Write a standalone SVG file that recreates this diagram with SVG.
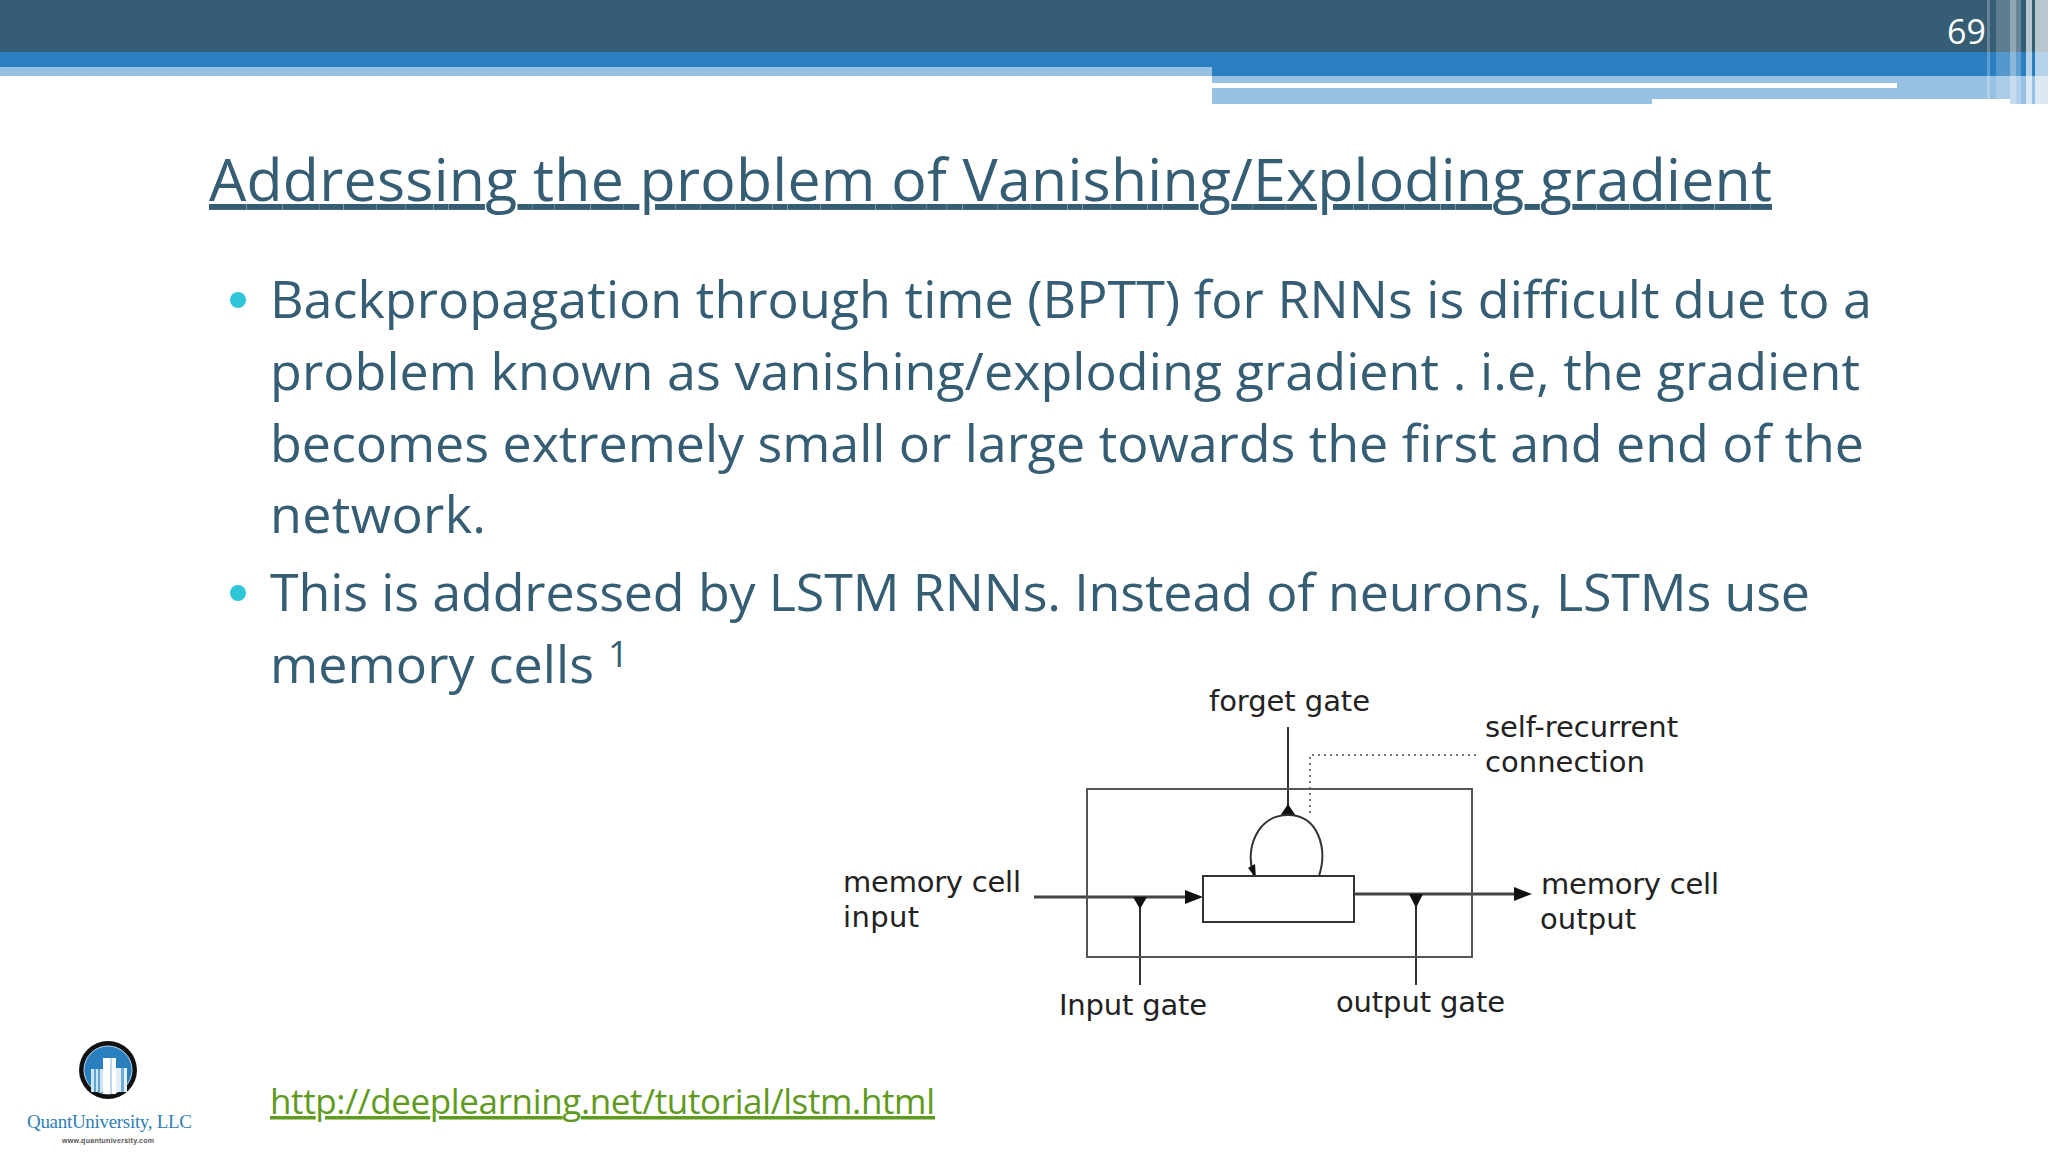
<svg xmlns="http://www.w3.org/2000/svg" width="2048" height="1152" viewBox="0 0 2048 1152">
<style>
.body{font-family:"Open Sans","Noto Sans",sans-serif;font-size:52px;fill:#355d74}
.lab{font-family:"DejaVu Sans",sans-serif;font-size:29px;fill:#222}
.ln{fill:none;stroke:#333;stroke-width:2}
.hv{fill:none;stroke:#444;stroke-width:3}
.ah{fill:#111;stroke:none}
</style>
<rect width="2048" height="1152" fill="#fff"/>
<g id="header">
<rect x="0" y="0" width="2048" height="52" fill="#355d74"/>
<rect x="0" y="52" width="2048" height="24" fill="#2a7fc1"/>
<rect x="0" y="67" width="1212" height="9" fill="#97c0e2"/>
<rect x="1212" y="76" width="836" height="28" fill="#97c0e2"/>
<rect x="1212" y="83" width="685" height="5" fill="#fff"/>
<rect x="1652" y="99" width="358" height="5" fill="#fff"/>
<g fill="#fff">
<rect x="1987" y="0" width="3" height="104" opacity=".25"/>
<rect x="1996" y="0" width="14" height="104" opacity=".2"/>
<rect x="2010" y="0" width="6" height="104" opacity=".45"/>
<rect x="2016" y="0" width="5" height="104" opacity=".25"/>
<rect x="2026" y="0" width="6" height="104" opacity=".65"/>
<rect x="2035" y="0" width="13" height="104" opacity=".65"/>
</g>
<text x="1947" y="44" font-family="Open Sans, sans-serif" font-size="34" fill="#fff">69</text>
</g>
<text id="title" x="209" y="201" class="body" style="font-size:59px" text-decoration="underline" textLength="1563">Addressing the problem of Vanishing/Exploding gradient</text>
<g id="bullets">
<circle cx="238" cy="300" r="8" fill="#2fc6d9"/>
<text x="270" y="318" class="body" textLength="1602">Backpropagation through time (BPTT) for RNNs is difficult due to a</text>
<text x="270" y="390" class="body" textLength="1590">problem known as vanishing/exploding gradient . i.e, the gradient</text>
<text x="270" y="462" class="body" textLength="1594">becomes extremely small or large towards the first and end of the</text>
<text x="270" y="533" class="body" textLength="216">network.</text>
<circle cx="238" cy="593" r="8" fill="#2fc6d9"/>
<text x="270" y="611" class="body" textLength="1540">This is addressed by LSTM RNNs. Instead of neurons, LSTMs use</text>
<text x="270" y="683" class="body" textLength="324">memory cells</text>
<text x="608" y="667" class="body" style="font-size:36px">1</text>
</g>
<g id="connectors">
<path class="hv" d="M1034 897H1195"/>
<path class="ah" d="M1203 897L1185 890V904Z"/>
<path class="hv" d="M1354 894H1520"/>
<path class="ah" d="M1532 894L1514 887V901Z"/>
<path class="ln" d="M1140 985V900"/>
<path class="ah" d="M1140 909L1133 897H1147Z"/>
<path class="ln" d="M1416 985V897"/>
<path class="ah" d="M1416 908L1409 894H1423Z"/>
<path class="ln" d="M1288 727V810"/>
<path class="ah" d="M1288 804L1280 816H1296Z"/>
<path class="ln" d="M1319 876C1328 848 1318 815 1288 815C1257 815 1244 850 1254 876"/>
<path class="ah" d="M1256 878L1248 868L1255 864Z"/>
<path d="M1476 755H1310V817" fill="none" stroke="#777" stroke-width="2" stroke-dasharray="2 4"/>
</g>
<g id="lstm-cell-box"><rect x="1087" y="789" width="385" height="168" fill="none" stroke="#555" stroke-width="2"/></g>
<g id="memory-cell"><rect x="1203" y="876" width="151" height="46" fill="#fff" stroke="#333" stroke-width="2"/></g>
<g id="labels">
<text x="1209" y="711" class="lab" textLength="161">forget gate</text>
<text x="1485" y="737" class="lab" textLength="193">self-recurrent</text>
<text x="1485" y="772" class="lab" textLength="160">connection</text>
<text x="843" y="892" class="lab" textLength="178">memory cell</text>
<text x="843" y="927" class="lab" textLength="76">input</text>
<text x="1541" y="894" class="lab" textLength="178">memory cell</text>
<text x="1540" y="929" class="lab" textLength="96">output</text>
<text x="1059" y="1015" class="lab" textLength="148">Input gate</text>
<text x="1336" y="1012" class="lab" textLength="169">output gate</text>
</g>
<text id="link" x="270" y="1114" font-family="Open Sans, sans-serif" font-size="35" fill="#5f9a1e" text-decoration="underline" textLength="665">http://deeplearning.net/tutorial/lstm.html</text>
<g id="logo">
<circle cx="108" cy="1070" r="29" fill="#111"/>
<circle cx="108" cy="1070" r="24" fill="#2a7fbf" stroke="#bcd8ea" stroke-width="1"/>
<rect x="91" y="1069" width="12" height="23" fill="#cfe4f3"/>
<rect x="94" y="1069" width="2" height="23" fill="#5fa3d3"/>
<rect x="98" y="1069" width="2" height="23" fill="#5fa3d3"/>
<rect x="103" y="1058" width="13" height="36" fill="#fff"/>
<rect x="110" y="1058" width="2" height="36" fill="#bcd8ea"/>
<rect x="116" y="1068" width="11" height="24" fill="#e3eff8"/>
<rect x="121" y="1068" width="3" height="24" fill="#6fadd9"/>
<text x="27" y="1128" font-family="Liberation Serif, serif" font-size="19" fill="#2f80b5" textLength="165">QuantUniversity, LLC</text>
<text x="62" y="1143" font-family="Liberation Sans, sans-serif" font-size="7" font-weight="bold" fill="#555" textLength="92">www.quantuniversity.com</text>
</g>
</svg>
